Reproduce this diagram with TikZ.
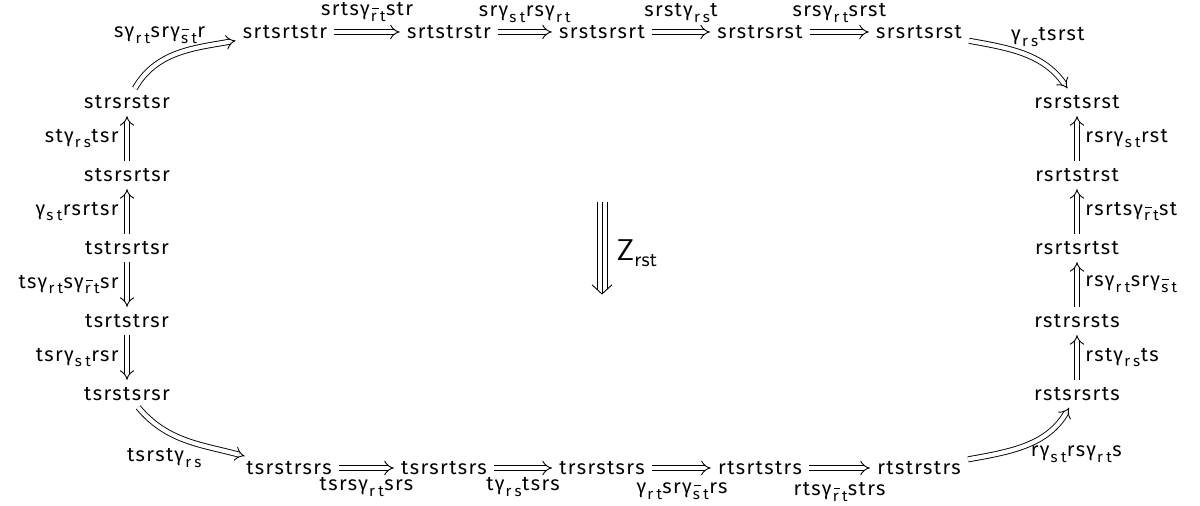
\documentclass[tikz,border=0pt]{standalone}
\usepackage{fontspec}
\setmainfont{Fira Sans}[LetterSpace=7]
\newfontfamily\subfont{Fira Sans}[LetterSpace=22]
\usetikzlibrary{arrows.meta}
\newcommand\subtx[1]{\raisebox{-0.55ex}{\subfont\fontsize{7.6}{7.6}\selectfont #1}}
\newcommand\gam[1]{\kern0.6pt γ\kern0.6pt\subtx{#1}\kern0.2pt}
\newcommand\gamb[1]{\kern0.6pt γ\kern0.6pt\subtx{\rlap{\kern0.4pt\raisebox{1.6ex}{\rule{0.45em}{0.45pt}}}#1}\kern0.2pt}
\tikzset{
  word/.style={inner sep=2pt, font=\fontsize{10}{12}\selectfont},
  lab/.style={inner sep=1pt, font=\fontsize{10}{12}\selectfont},
  imp/.style={double, double distance=2.1pt, line width=0.45pt, -{Implies[scale=1.3]}, shorten >=1.5pt, shorten <=1.5pt},
  tri/.style={line width=0.45pt},
}
\begin{document}
\begin{tikzpicture}[x=0.5pt,y=0.5pt]
\useasboundingbox (0,0) rectangle (1200,506);
% top row
\node[word] (n1) at (285,474) {srtsrtstr};
\node[word] (n2) at (449,474) {srtstrstr};
\node[word] (n3) at (602,474) {srstsrsrt};
\node[word] (n4) at (760,474) {srstrsrst};
\node[word] (n5) at (919,474) {srsrtsrst};
% left column
\node[word] (l1) at (127,404) {strsrstsr};
\node[word] (l2) at (127,331) {stsrsrtsr};
\node[word] (l3) at (127,258) {tstrsrtsr};
\node[word] (l4) at (127,185) {tsrtstrsr};
\node[word] (l5) at (127,112) {tsrstsrsr};
% right column
\node[word] (r1) at (1077,404) {rsrstsrst};
\node[word] (r2) at (1077,331) {rsrtstrst};
\node[word] (r3) at (1077,258) {rsrtsrtst};
\node[word] (r4) at (1077,185) {rstrsrsts};
\node[word] (r5) at (1077,112) {rstsrsrts};
% bottom row
\node[word] (b1) at (289,38) {tsrstrsrs};
\node[word] (b2) at (444,38) {tsrsrtsrs};
\node[word] (b3) at (602,38) {trsrstsrs};
\node[word] (b4) at (760,38) {rtsrtstrs};
\node[word] (b5) at (919,38) {rtstrstrs};
% top arrows
\draw[imp] (n1) -- node[lab,above=4pt] {srts\gamb{rt}str} (n2);
\draw[imp] (n2) -- node[lab,above=3.5pt] {sr\gam{st}rs\gam{rt}} (n3);
\draw[imp] (n3) -- node[lab,above=3.5pt] {srst\gam{rs}t} (n4);
\draw[imp] (n4) -- node[lab,above=3.5pt] {srs\gam{rt}srst} (n5);
\draw[imp] (n5) to[out=-10,in=125] node[lab,pos=0.34,anchor=south west] {\gam{rs}tsrst} (r1);
% right column arrows
\draw[imp] (r2) -- node[lab,right=3pt] {rsr\gam{st}rst} (r1);
\draw[imp] (r3) -- node[lab,right=3pt] {rsrts\gamb{rt}st} (r2);
\draw[imp] (r4) -- node[lab,right=3pt] {rs\gam{rt}sr\gamb{st}} (r3);
\draw[imp] (r5) -- node[lab,right=3pt] {rst\gam{rs}ts} (r4);
% bottom arrows
\draw[imp] (b5) to[out=10,in=-120] node[lab,pos=0.52,anchor=north west] {r\gam{st}rs\gam{rt}s} (r5);
\draw[imp] (b1) -- node[lab,below=3.5pt] {tsrs\gam{rt}srs} (b2);
\draw[imp] (b2) -- node[lab,below=3.5pt] {t\gam{rs}tsrs} (b3);
\draw[imp] (b3) -- node[lab,below=6pt] {\gam{rt}sr\gamb{st}rs} (b4);
\draw[imp] (b4) -- node[lab,below=6pt] {rts\gamb{rt}strs} (b5);
\draw[imp] (l5) to[out=-50,in=165] node[lab,pos=0.66,anchor=north east] {tsrst\gam{rs}} (b1);
% left column arrows
\draw[imp] (l2) -- node[lab,left=3pt] {st\gam{rs}tsr} (l1);
\draw[imp] (l3) -- node[lab,left=3pt] {\gam{st}rsrtsr} (l2);
\draw[imp] (l3) -- node[lab,left=3pt] {ts\gam{rt}s\gamb{rt}sr} (l4);
\draw[imp] (l4) -- node[lab,left=3pt] {tsr\gam{st}rsr} (l5);
\draw[imp] (l1) to[out=60,in=190] node[lab,pos=0.76,anchor=south east] {s\gam{rt}sr\gamb{st}r} (n1);
% central triple arrow
\coordinate (za) at (602,304);
\coordinate (zb) at (602,212);
\draw[tri] ([xshift=-2.5pt]za) -- ([xshift=-2.5pt,yshift=2.6pt]zb);
\draw[tri] ([xshift=2.5pt]za) -- ([xshift=2.5pt,yshift=2.6pt]zb);
\draw[tri] (za) -- ([yshift=0.3pt]zb);
\draw[tri,line join=round] ([xshift=-5pt,yshift=4.6pt]zb) -- (zb) -- ([xshift=5pt,yshift=4.6pt]zb);
\node[anchor=west,inner sep=0pt,font=\sffamily\fontsize{15}{15}\selectfont] (zl) at (616,253) {Z\raisebox{-0.45ex}{\fontsize{10.5}{10.5}\selectfont rst}};
\end{tikzpicture}
\end{document}
